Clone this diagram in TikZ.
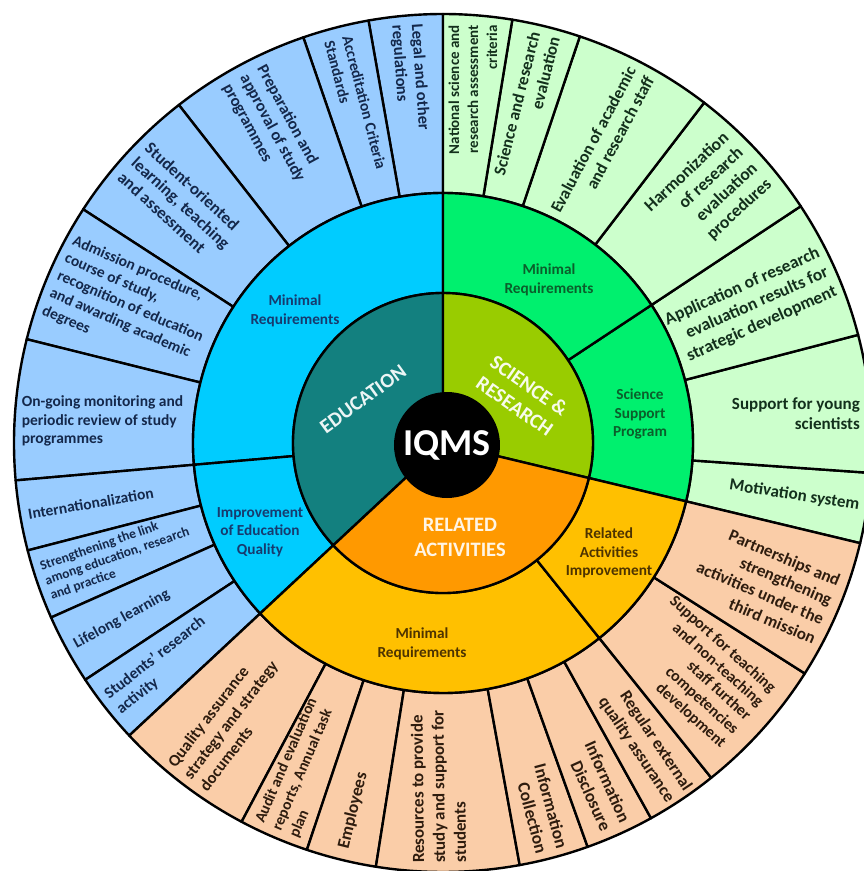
\documentclass[tikz,border=0pt]{standalone}
\usepackage{fontspec}
\setmainfont{Carlito}
\usepackage{xcolor}

\definecolor{eduinner}{HTML}{13807F}
\definecolor{scienceinner}{HTML}{99CC00}
\definecolor{relatedinner}{HTML}{FF9900}
\definecolor{edumid}{HTML}{00CCFF}
\definecolor{sciencemid}{HTML}{00F06E}
\definecolor{relatedmid}{HTML}{FFC000}
\definecolor{eduouter}{HTML}{99CCFF}
\definecolor{scienceouter}{HTML}{CCFFCC}
\definecolor{relatedouter}{HTML}{FACDA8}
\definecolor{edutext}{HTML}{14284B}
\definecolor{scitext}{HTML}{13301C}
\definecolor{reltext}{HTML}{2E1C0E}
\definecolor{edumidtext}{HTML}{173A6E}
\definecolor{scimidtext}{HTML}{0B5E2B}
\definecolor{relmidtext}{HTML}{4D3300}

% #1 fill, #2 inner radius, #3 outer radius, #4 start angle, #5 end angle
\newcommand{\ringpart}[5]{%
  \filldraw[ring, fill=#1] (#4:#2pt) arc[start angle=#4, end angle=#5, radius=#2pt]
    -- (#5:#3pt) arc[start angle=#5, end angle=#4, radius=#3pt] -- cycle;}

\begin{document}
\begin{tikzpicture}[
    ring/.style={draw=black, line width=2.4pt, line join=round},
    sz/.style 2 args={font=\bfseries\fontsize{#1}{#2}\selectfont},
    eduout/.style={inner sep=0pt, text=edutext, align=left, anchor=west},
    sciout/.style={inner sep=0pt, text=scitext, align=right, anchor=east},
    relout/.style={inner sep=0pt, text=reltext, align=right, anchor=east},
    relin/.style={inner sep=0pt, text=reltext, align=left, anchor=west},
    midlabel/.style={inner sep=0pt, align=center, sz={15.3}{18.5}},
    corelabel/.style={inner sep=0pt, align=center, sz={20.5}{25}}
]
\useasboundingbox (-443pt,-428pt) rectangle (421pt,443pt);
\clip (-443pt,-428pt) rectangle (421pt,443pt);

% outer ring
\foreach \a/\b in {90/100, 100/109, 109/128, 128/147, 147/166, 166/185,
                   185/194.5, 194.5/204, 204/213.5, 213.5/223}
  \ringpart{eduouter}{250}{429}{\a}{\b};
\foreach \a/\b in {-13.5/-4, -4/14.6, 14.6/33.5, 33.5/52.5, 52.5/71.4,
                   71.4/80.7, 80.7/90}
  \ringpart{scienceouter}{250}{429}{\a}{\b};
\foreach \a/\b in {223/242, 242/251.5, 251.5/261, 261/280.3, 280.3/289.7,
                   289.7/299, 299/308.7, 308.7/327.5, 327.5/346.5}
  \ringpart{relatedouter}{250}{429}{\a}{\b};

% middle ring
\ringpart{edumid}{150}{250}{90}{185};
\ringpart{edumid}{150}{250}{185}{223};
\ringpart{sciencemid}{150}{250}{-13.5}{33.5};
\ringpart{sciencemid}{150}{250}{33.5}{90};
\ringpart{relatedmid}{150}{250}{223}{308.7};
\ringpart{relatedmid}{150}{250}{308.7}{346.5};

% inner ring
\ringpart{eduinner}{40}{150}{90}{223};
\ringpart{scienceinner}{40}{150}{-13.5}{90};
\ringpart{relatedinner}{40}{150}{223}{346.5};

\node[circle, fill=black, minimum size=106pt, inner sep=0pt, text=white,
      sz={38}{40}] (iqms) at (4pt,-2pt) {IQMS};

% core labels
\node[corelabel, text=white!92!eduinner, rotate=36] (education) at (-80pt,44pt) {EDUCATION};
\node[corelabel, text=white!92!scienceinner, rotate=-35] (science) at (79pt,47pt) {SCIENCE \&\\RESEARCH};
\node[corelabel, text=white!90!relatedinner] (related) at (17pt,-94pt) {RELATED\\ACTIVITIES};

% middle labels
\node[midlabel, text=edumidtext] (eduminimal) at (-148pt,132pt) {Minimal\\Requirements};
\node[midlabel, text=edumidtext] (eduimprove) at (-183pt,-89pt) {Improvement\\of Education\\Quality};
\node[midlabel, text=scimidtext] (sciminimal) at (106pt,163pt) {Minimal\\Requirements};
\node[midlabel, text=scimidtext] (scisupport) at (197pt,29pt) {Science\\Support\\Program};
\node[midlabel, text=relmidtext] (relimprove) at (166pt,-110pt) {Related\\Activities\\Improvement};
\node[midlabel, text=relmidtext] (relminimal) at (-21pt,-201pt) {Minimal\\Requirements};

% education items
\node[eduout, sz={16.5}{19.5}, rotate=-86] (legal) at (95:420pt) {Legal and other\\regulations};
\node[eduout, sz={15.5}{18.5}, rotate=-75.5] (accred) at (104.5:418pt) {Accreditation Criteria\\Standards};
\node[eduout, sz={16.5}{19.5}, rotate=-61.5] (prepare) at (118.5:418pt) {Preparation and\\approval of study\\programmes};
\node[eduout, sz={17}{20}, rotate=-42.5] (studentlearn) at (137.5:419pt) {Student-oriented\\learning, teaching\\and assessment};
\node[eduout, sz={15.5}{19}, rotate=-23.5] (admission) at (156.5:420pt) {Admission procedure,\\course of study,\\recognition of education\\and awarding academic\\degrees};
\node[eduout, sz={15.5}{18.5}] (monitoring) at (177:422pt) {On-going monitoring and\\periodic review of study\\programmes};
\node[eduout, sz={15.5}{18.5}, rotate=9.75] (intl) at (189.75:421pt) {Internationalization};
\node[eduout, sz={13.5}{15.5}, rotate=19.25] (linkpractice) at (199.25:421pt) {Strengthening the link\\among education, research\\and practice};
\node[eduout, sz={15.5}{18.5}, rotate=28.75] (lifelong) at (208.75:420pt) {Lifelong learning};
\node[eduout, sz={16}{19}, rotate=38.25] (studresearch) at (218.25:421pt) {Students' research\\activity};

% science items
\node[sciout, sz={15}{19}, rotate=90] (natcriteria) at (85.9:419pt) {National science and\\research assessment\\criteria};
\node[sciout, sz={17}{20.5}, rotate=76.05] (scieval) at (76.05:421pt) {Science and research\\evaluation};
\node[sciout, sz={17}{20.5}, rotate=61.95] (staffeval) at (61.95:420pt) {Evaluation of academic\\and research staff};
\node[sciout, sz={17.5}{21}, rotate=43] (harmon) at (43:417pt) {Harmonization\\of research\\evaluation\\procedures};
\node[sciout, sz={17.5}{21}, rotate=24] (applic) at (24:421pt) {Application of research\\evaluation results for\\strategic development};
\node[sciout, sz={17}{20}] (young) at (4:418pt) {Support for young\\scientists};
\node[sciout, sz={17}{20}, rotate=-8.75] (motivation) at (-8.5:421pt) {Motivation system};

% related activities items
\node[relout, sz={17}{21}, rotate=-23] (partner) at (-23.5:419pt) {Partnerships and\\strengthening\\activities under the\\third mission};
\node[relout, sz={16}{18.5}, rotate=-42] (staffdev) at (-42:411pt) {Support for teaching\\and non-teaching\\staff further\\competencies\\development};
\node[relout, sz={17}{21}, rotate=-56.15] (extqa) at (-56.15:424pt) {Regular external\\quality assurance};
\node[relout, sz={17.5}{21}, rotate=-65.65] (infodisc) at (-65.65:420pt) {Information\\Disclosure};
\node[relout, sz={17.5}{21}, rotate=-75] (infocoll) at (-75:422pt) {Information\\Collection};
\node[relin, sz={17}{21}, rotate=90.65] (resources) at (-90.5:420pt) {Resources to provide\\study and support for\\students};
\node[relin, sz={17.5}{21}, rotate=76.25] (employees) at (256.25:418pt) {Employees};
\node[relin, sz={15.5}{18.5}, rotate=66.75] (audit) at (246.75:421pt) {Audit and evaluation\\reports, Annual task\\plan};
\node[relin, sz={16.5}{20}, rotate=52.5] (qadocs) at (232.5:421pt) {Quality assurance\\strategy and strategy\\documents};

\end{tikzpicture}
\end{document}
